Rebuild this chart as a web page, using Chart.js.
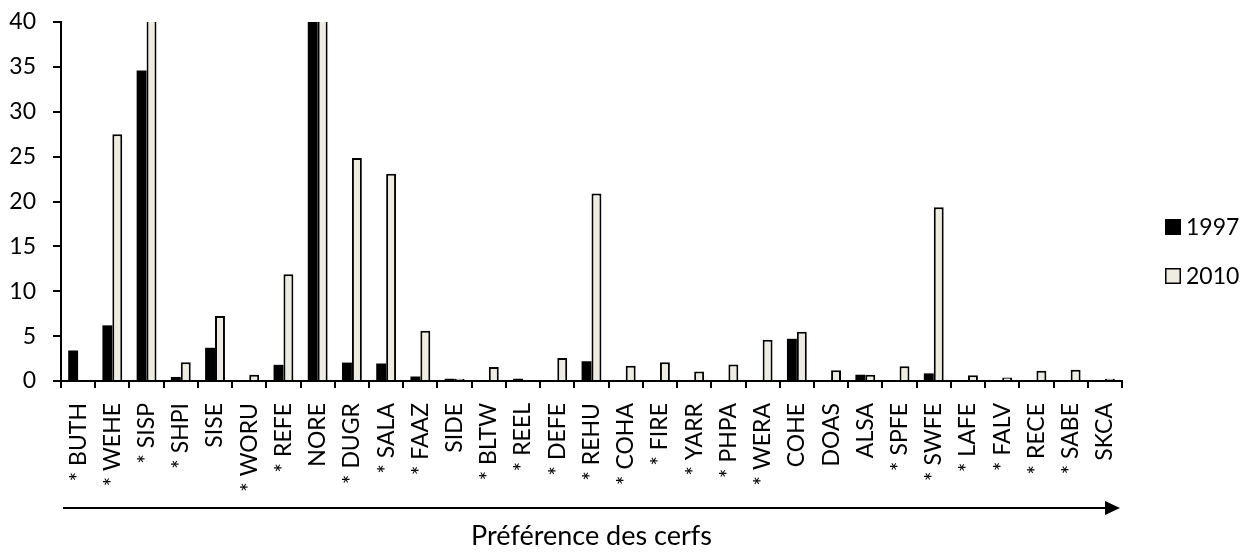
<!DOCTYPE html>
<html>
<head>
<meta charset="utf-8">
<script src="https://cdn.jsdelivr.net/npm/chart.js@4.4.0/dist/chart.umd.min.js"></script>
<style>
  html, body { margin: 0; padding: 0; background: #fff; }
  #wrap { width: 1252px; height: 552px; }
</style>
</head>
<body>
<div id="wrap"><canvas id="deerChart"></canvas></div>
<script>
// species codes, ordered by deer preference ("* " marks the flagged ones)
const categories = [
  '* BUTH', '* WEHE', '* SISP', '* SHPI', 'SISE', '* WORU', '* REFE', 'NORE',
  '* DUGR', '* SALA', '* FAAZ', 'SIDE', '* BLTW', '* REEL', '* DEFE', '* REHU',
  '* COHA', '* FIRE', '* YARR', '* PHPA', '* WERA', 'COHE', 'DOAS', 'ALSA',
  '* SPFE', '* SWFE', '* LAFE', '* FALV', '* RECE', '* SABE', 'SKCA'
];

// values above 40 are cut off in the original picture
const values1997 = [
  3.4, 6.2, 34.6, 0.45, 3.7, 0, 1.8, 45,
  2.05, 1.95, 0.5, 0.25, 0, 0.25, 0.05, 2.2,
  0, 0, 0, 0, 0.05, 4.7, 0, 0.7,
  0, 0.85, 0, 0, 0, 0, 0
];
const values2010 = [
  0, 27.5, 45, 2.1, 7.25, 0.7, 11.9, 45,
  24.85, 23.1, 5.6, 0.25, 1.55, 0, 2.55, 20.9,
  1.7, 2.1, 1.05, 1.85, 4.6, 5.5, 1.2, 0.7,
  1.65, 19.35, 0.65, 0.4, 1.15, 1.25, 0.25
];

const yTicks = [0, 5, 10, 15, 20, 25, 30, 35, 40];
const axisTitle = 'Préférence des cerfs';

const FONT = 'Lato, "Open Sans", sans-serif';
const FSIZE = 23;

// arrow under the tick labels + legend on the right
const decorations = {
  id: 'decorations',
  afterDraw(chart) {
    const { ctx, chartArea } = chart;
    const y = chart.height - 44;
    const x0 = chartArea.left + 2;
    const x1 = chartArea.right - 2;

    ctx.save();
    ctx.strokeStyle = '#000';
    ctx.fillStyle = '#000';
    ctx.lineWidth = 2;
    ctx.beginPath();
    ctx.moveTo(x0, y);
    ctx.lineTo(x1 - 14, y);
    ctx.stroke();
    ctx.beginPath();
    ctx.moveTo(x1, y);
    ctx.lineTo(x1 - 15, y - 7);
    ctx.lineTo(x1 - 15, y + 7);
    ctx.closePath();
    ctx.fill();

    // legend
    const lx = chartArea.right + 43;
    chart.data.datasets.forEach((ds, i) => {
      const cy = chart.height / 2 - 49 + i * 49;
      ctx.fillStyle = ds.backgroundColor;
      ctx.fillRect(lx, cy - 8, 16, 16);
      if (ds.borderWidth) {
        ctx.lineWidth = 1.5;
        ctx.strokeStyle = '#000';
        ctx.strokeRect(lx + 0.75, cy - 7.25, 14.5, 14.5);
      }
      ctx.fillStyle = '#000';
      ctx.font = FSIZE + 'px ' + FONT;
      ctx.textBaseline = 'middle';
      ctx.textAlign = 'left';
      ctx.fillText(ds.label, lx + 21, cy + 1);
    });
    ctx.restore();
  }
};

new Chart(document.getElementById('deerChart'), {
  type: 'bar',
  data: {
    labels: categories,
    datasets: [
      {
        label: '1997',
        data: values1997,
        backgroundColor: '#000000',
        borderWidth: 0,
        categoryPercentage: 0.58,
        barPercentage: 1
      },
      {
        label: '2010',
        data: values2010,
        backgroundColor: '#EEECE1',
        borderColor: '#000000',
        borderWidth: 2,
        categoryPercentage: 0.58,
        barPercentage: 1
      }
    ]
  },
  options: {
    responsive: true,
    maintainAspectRatio: false,
    animation: false,
    layout: { padding: { left: 0, right: 130, top: 22, bottom: 0 } },
    plugins: {
      legend: { display: false },
      tooltip: { enabled: false }
    },
    scales: {
      x: {
        border: { color: '#000', width: 2 },
        grid: { drawOnChartArea: false, color: '#000', lineWidth: 2, tickLength: 7, offset: true },
        ticks: {
          color: '#000',
          font: { family: FONT, size: FSIZE },
          minRotation: 90,
          maxRotation: 90,
          autoSkip: false,
          padding: 15
        },
        title: {
          display: true,
          text: axisTitle,
          color: '#000',
          font: { family: FONT, size: 27 },
          padding: { top: 21, bottom: 0 }
        },
        afterFit(axis) {
          axis.height = 171;
          axis.paddingLeft = 0;
          axis.paddingRight = 0;
        }
      },
      y: {
        min: 0,
        max: 40,
        border: { color: '#000', width: 2 },
        grid: { drawOnChartArea: false, color: '#000', lineWidth: 2, tickLength: 8 },
        afterBuildTicks(axis) {
          axis.ticks = yTicks.map(v => ({ value: v }));
        },
        ticks: {
          color: '#000',
          font: { family: FONT, size: FSIZE },
          padding: 17
        },
        afterFit(axis) {
          axis.width = 61;
          axis.paddingTop = 0;
          axis.paddingBottom = 0;
        }
      }
    }
  },
  plugins: [decorations]
});
</script>
</body>
</html>
